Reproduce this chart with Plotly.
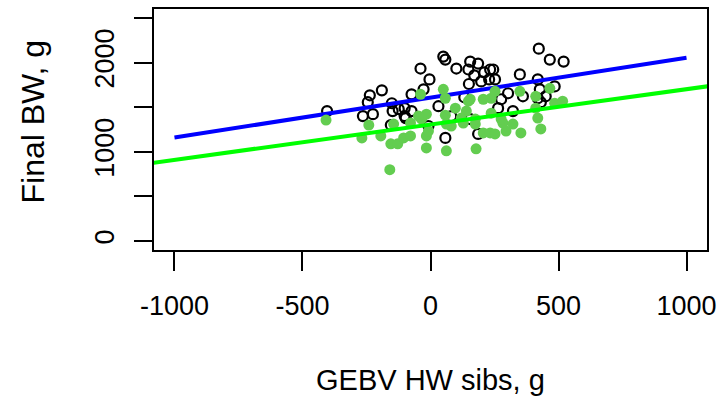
import plotly.graph_objects as go

# Black open circles (observed, group 1)
black_x = [-404, -237, -245, -190, -264, -225, -151, -148, -124, -101, -101, -155,
           50, 58, -39, -4, 101, 155, 186, 148, 171, 210, 198, 229, 233, -27, -74, 132,
           31, -74, -97, 58, 186, -8, 81, 155, 150,
           423, 466, 520, 245, 252, 349, 419, 485, 427, 303, 361, 419, 450, 431, 276, 264, 322]
black_y = [1456, 1633, 1556, 1689, 1400, 1422, 1544, 1456, 1478, 1489, 1400, 1300,
           2067, 2033, 1933, 1811, 1933, 2011, 1989, 1922, 1856, 1889, 1789, 1811, 1922, 1700, 1644, 1611,
           1511, 1456, 1378, 1156, 1200, 1289, 1400, 1367, 1760,
           2156, 2033, 2011, 1922, 1811, 1867, 1811, 1733, 1700, 1656, 1622, 1600, 1622, 1556, 1589, 1489, 1456]

# Green filled circles (group 2)
green_x = [-408, -241, -268, -194, -155, -128, -144, -105, -159,
           -39, 50, 58, 155, 206, 97, 140, -16, -35, 58, 81, 175, 206, -78, -16, -16, 62, 178, 233, 128,
           466, 349, 237, 485, 516, 411, 419, 237, 283, 322, 295, 353, 431, 252, 411,
           252, -78, -8, 62, 175, 148, 120, 276, -47]
green_y = [1356, 1300, 1156, 1178, 1089, 1089, 1311, 1156, 800,
           1644, 1700, 1600, 1589, 1589, 1489, 1456, 1422, 1367, 1411, 1289, 1311, 1211, 1178, 1178, 1044, 1011, 1033, 1211, 1322,
           1711, 1678, 1600, 1544, 1567, 1489, 1378, 1433, 1322, 1311, 1233, 1211, 1256, 1200, 1622,
           1678, 1322, 1233, 1311, 1367, 1567, 1378, 1367, 1400]

# Regression lines
blue_line_x = [-1000, 1000]
blue_line_y = [1160, 2055]
green_line_x = [-1100, 1100]
green_line_y = [870, 1741]

x_tickvals = [-1000, -500, 0, 500, 1000]
x_ticktext = ["-1000", "-500", "0", "500", "1000"]
y_tickvals = [0, 500, 1000, 1500, 2000, 2500]
y_ticktext = ["0", "", "1000", "", "2000", ""]

fig = go.Figure()
fig.add_trace(go.Scatter(x=black_x, y=black_y, mode="markers",
                         marker=dict(symbol="circle-open", size=10, color="black",
                                     line=dict(width=2.2, color="black")),
                         showlegend=False))
fig.add_trace(go.Scatter(x=blue_line_x, y=blue_line_y, mode="lines",
                         line=dict(color="#0000FF", width=4), showlegend=False))
fig.add_trace(go.Scatter(x=green_x, y=green_y, mode="markers",
                         marker=dict(symbol="circle", size=11, color="rgb(99,205,80)"),
                         showlegend=False))
fig.add_trace(go.Scatter(x=green_line_x, y=green_line_y, mode="lines",
                         line=dict(color="#00FF00", width=4), showlegend=False))

font_family = "Liberation Sans, Arial, sans-serif"

fig.update_layout(
    width=723, height=399,
    margin=dict(l=153.5, r=14, t=6.7, b=149.3, pad=0),
    plot_bgcolor="white", paper_bgcolor="white",
    font=dict(family=font_family, color="black"),
    xaxis=dict(range=[-1080, 1080], showgrid=False, zeroline=False,
               showline=True, linecolor="black", linewidth=2, mirror=True,
               ticks="outside", ticklen=19, tickwidth=2, tickcolor="black",
               tickvals=x_tickvals, ticktext=x_ticktext,
               tickfont=dict(size=27, family=font_family), ticklabelstandoff=12),
    yaxis=dict(range=[-100, 2600], showgrid=False, zeroline=False,
               showline=True, linecolor="black", linewidth=2, mirror=True,
               ticks="outside", ticklen=18, tickwidth=2, tickcolor="black",
               tickvals=y_tickvals, ticktext=y_ticktext, tickangle=-90,
               tickfont=dict(size=27, family=font_family), ticklabelstandoff=9),
    annotations=[
        dict(text="GEBV HW sibs, g", xref="paper", yref="paper", x=0.5, y=-0.54,
             xanchor="center", yanchor="middle", showarrow=False,
             font=dict(size=29, family=font_family)),
        dict(text="Final BW, g", xref="paper", yref="paper", x=-0.218, y=0.535,
             xanchor="center", yanchor="middle", showarrow=False, textangle=-90,
             font=dict(size=32, family=font_family)),
    ],
)

fig.write_html("out.html")
